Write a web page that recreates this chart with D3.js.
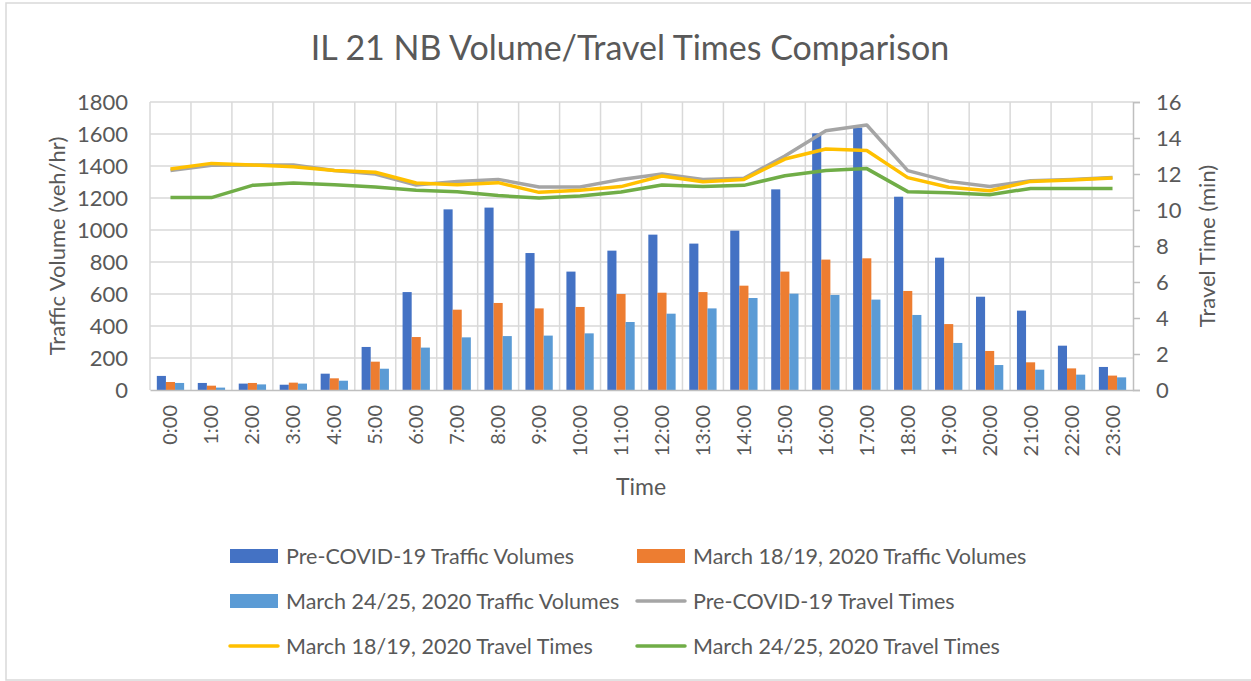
<!DOCTYPE html>
<html>
<head>
<meta charset="utf-8">
<script src="https://cdn.jsdelivr.net/npm/d3@7"></script>
<style>
  body { margin: 0; background: #fff; }
  text { font-family: Lato, "Open Sans", sans-serif; fill: #595959; }
</style>
</head>
<body>
<svg id="chart"></svg>
<script>
const hours = ["0:00","1:00","2:00","3:00","4:00","5:00","6:00","7:00","8:00","9:00","10:00","11:00",
               "12:00","13:00","14:00","15:00","16:00","17:00","18:00","19:00","20:00","21:00","22:00","23:00"];

// traffic volumes (veh/hr)
const preCovidVolumes = [88, 44, 40, 33, 102, 269, 612, 1129, 1140, 856, 740, 871, 971, 915, 996, 1254, 1604, 1640, 1208, 827, 583, 496, 277, 144];
const march1819Volumes = [50, 27, 44, 46, 73, 177, 331, 502, 544, 510, 519, 600, 608, 612, 652, 740, 815, 823, 619, 412, 244, 173, 135, 90];
const march2425Volumes = [44, 15, 35, 40, 58, 133, 265, 329, 337, 340, 354, 425, 477, 510, 575, 602, 594, 565, 469, 294, 156, 127, 96, 79];

// travel times (min)
const preCovidTimes = [12.19, 12.48, 12.5, 12.5, 12.2, 12.0, 11.39, 11.59, 11.7, 11.28, 11.28, 11.7, 12.0, 11.7, 11.76, 13.0, 14.4, 14.72, 12.19, 11.59, 11.3, 11.63, 11.69, 11.8];
const march1819Times = [12.28, 12.59, 12.5, 12.4, 12.2, 12.1, 11.5, 11.4, 11.52, 10.98, 11.1, 11.3, 11.89, 11.57, 11.7, 12.83, 13.39, 13.31, 11.8, 11.26, 11.07, 11.59, 11.67, 11.78];
const march2425Times = [10.69, 10.69, 11.37, 11.5, 11.4, 11.28, 11.1, 11.02, 10.8, 10.67, 10.78, 11.0, 11.39, 11.3, 11.37, 11.9, 12.19, 12.3, 11.02, 10.96, 10.85, 11.2, 11.2, 11.2];

const volumeTicks = [0, 200, 400, 600, 800, 1000, 1200, 1400, 1600, 1800];
const timeTicks = [0, 2, 4, 6, 8, 10, 12, 14, 16];

const barSeries = [
  { name: "Pre-COVID-19 Traffic Volumes", values: preCovidVolumes, color: "#4472C4" },
  { name: "March 18/19, 2020 Traffic Volumes", values: march1819Volumes, color: "#ED7D31" },
  { name: "March 24/25, 2020 Traffic Volumes", values: march2425Volumes, color: "#5B9BD5" }
];
const lineSeries = [
  { name: "Pre-COVID-19 Travel Times", values: preCovidTimes, color: "#A5A5A5" },
  { name: "March 18/19, 2020 Travel Times", values: march1819Times, color: "#FFC000" },
  { name: "March 24/25, 2020 Travel Times", values: march2425Times, color: "#70AD47" }
];

const width = 1251, height = 681;
const plot = { left: 150, right: 1133, top: 102, bottom: 390 };

const svg = d3.select("#chart").attr("width", width).attr("height", height);

// outer chart border
svg.append("rect")
  .attr("x", 6).attr("y", 3).attr("width", 1260).attr("height", 677)
  .attr("fill", "none").attr("stroke", "#d9d9d9").attr("stroke-width", 1.5);

const x = d3.scaleBand().domain(hours).range([plot.left, plot.right]).padding(0);
const yLeft = d3.scaleLinear().domain([0, 1800]).range([plot.bottom, plot.top]);
const yRight = d3.scaleLinear().domain([0, 16]).range([plot.bottom, plot.top]);

const barW = x.bandwidth() / 4.5;
const x1 = d3.scaleBand().domain(d3.range(barSeries.length))
  .range([(x.bandwidth() - 3 * barW) / 2, (x.bandwidth() + 3 * barW) / 2]);

// gridlines
const grid = svg.append("g").attr("stroke", "#d9d9d9").attr("stroke-width", 1.5);
grid.selectAll("line.h").data(volumeTicks.slice(1)).join("line")
  .attr("x1", plot.left).attr("x2", plot.right)
  .attr("y1", d => yLeft(d)).attr("y2", d => yLeft(d));
grid.selectAll("line.v").data(d3.range(hours.length)).join("line")
  .attr("x1", i => x(hours[i])).attr("x2", i => x(hours[i]))
  .attr("y1", plot.top).attr("y2", plot.bottom);

// bars
barSeries.forEach((s, si) => {
  svg.append("g").selectAll("rect").data(s.values).join("rect")
    .attr("x", (d, i) => x(hours[i]) + x1(si))
    .attr("y", d => yLeft(d))
    .attr("width", x1.bandwidth())
    .attr("height", d => plot.bottom - yLeft(d))
    .attr("fill", s.color);
});

// lines
const line = d3.line().x((d, i) => x(hours[i]) + x.bandwidth() / 2).y(d => yRight(d));
lineSeries.forEach(s => {
  svg.append("path").datum(s.values)
    .attr("d", line)
    .attr("fill", "none")
    .attr("stroke", s.color)
    .attr("stroke-width", 3.5)
    .attr("stroke-linejoin", "round");
});

// left axis
const leftAxis = svg.append("g").attr("transform", `translate(${plot.left},0)`)
  .call(d3.axisLeft(yLeft).tickValues(volumeTicks).tickFormat(d3.format("d")).tickSize(0).tickPadding(22));
leftAxis.select(".domain").remove();
leftAxis.selectAll("text").style("font-size", "22px").attr("fill", "#595959");

// right axis
const rightAxis = svg.append("g").attr("transform", `translate(${plot.right},0)`)
  .call(d3.axisRight(yRight).tickValues(timeTicks).tickSize(7).tickPadding(16));
rightAxis.select(".domain").attr("stroke", "#bfbfbf").attr("stroke-width", 1.5);
rightAxis.selectAll("line").attr("stroke", "#bfbfbf").attr("stroke-width", 1.5);
rightAxis.selectAll("text").style("font-size", "22px").attr("fill", "#595959");

// bottom axis
const bottomAxis = svg.append("g").attr("transform", `translate(0,${plot.bottom})`)
  .call(d3.axisBottom(x).tickSize(0));
bottomAxis.select(".domain").attr("stroke", "#bfbfbf").attr("stroke-width", 1.5);
bottomAxis.selectAll("text")
  .style("font-size", "20px").attr("fill", "#595959")
  .attr("text-anchor", "end")
  .attr("transform", "rotate(-90)")
  .attr("x", -15).attr("y", 0).attr("dy", "0.35em");

// titles
svg.append("text").attr("x", 630).attr("y", 60).attr("text-anchor", "middle")
  .style("font-size", "34px").text("IL 21 NB Volume/Travel Times Comparison");
svg.append("text").attr("transform", "translate(65,246) rotate(-90)").attr("text-anchor", "middle")
  .style("font-size", "22px").text("Traffic Volume (veh/hr)");
svg.append("text").attr("transform", "translate(1215,246) rotate(-90)").attr("text-anchor", "middle")
  .style("font-size", "22px").text("Travel Time (min)");
svg.append("text").attr("x", 641).attr("y", 495).attr("text-anchor", "middle")
  .style("font-size", "23px").text("Time");

// legend
const legendItems = [
  { ...barSeries[0], kind: "bar" }, { ...barSeries[1], kind: "bar" },
  { ...barSeries[2], kind: "bar" }, { ...lineSeries[0], kind: "line" },
  { ...lineSeries[1], kind: "line" }, { ...lineSeries[2], kind: "line" }
];
const legend = svg.append("g");
legendItems.forEach((item, i) => {
  const col = i % 2, row = Math.floor(i / 2);
  const gx = col === 0 ? 230 : 637;
  const gy = 556 + row * 45;
  const g = legend.append("g").attr("transform", `translate(${gx},${gy})`);
  if (item.kind === "bar") {
    g.append("rect").attr("x", 0).attr("y", -7).attr("width", 48).attr("height", 14).attr("fill", item.color);
  } else {
    g.append("line").attr("x1", 0).attr("x2", 48).attr("y1", 0).attr("y2", 0)
      .attr("stroke", item.color).attr("stroke-width", 3.5).attr("stroke-linecap", "round");
  }
  g.append("text").attr("x", 56).attr("y", 0).attr("dy", "0.35em")
    .style("font-size", "21.5px").text(item.name);
});
</script>
</body>
</html>
